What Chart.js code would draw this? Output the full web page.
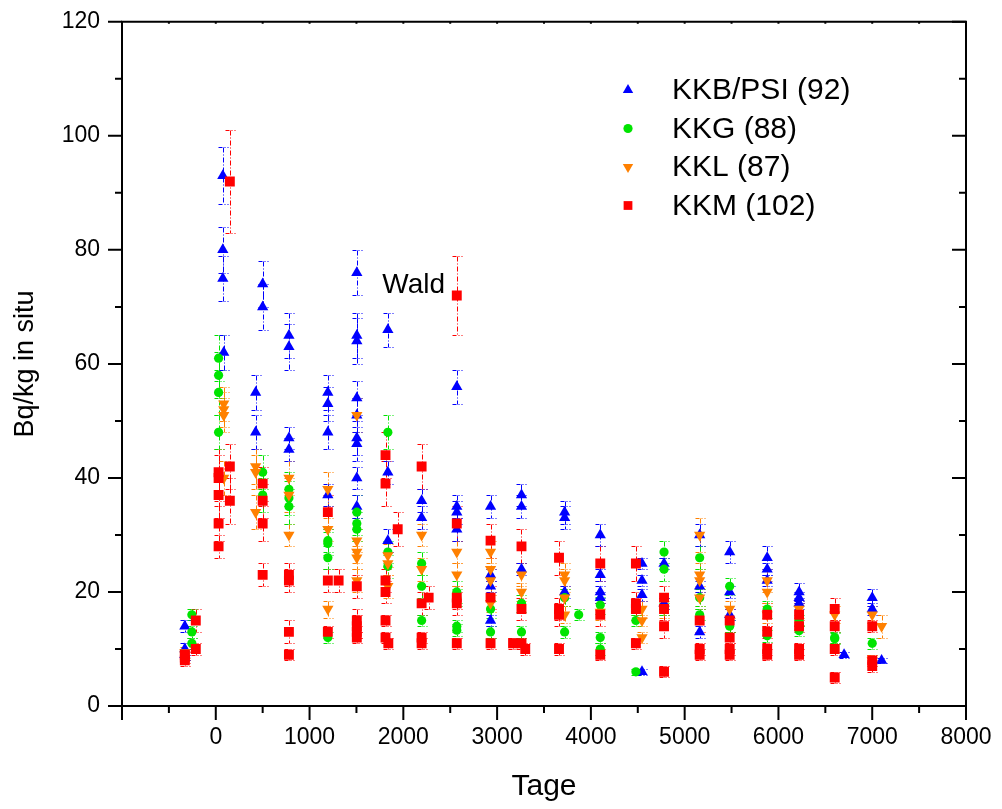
<!DOCTYPE html>
<html lang="de">
<head>
<meta charset="UTF-8">
<script src="https://cdn.jsdelivr.net/npm/chart.js"></script>
<title>Bq/kg in situ</title>
<style>
  body { margin: 0; background: #fff; }
</style>
</head>
<body>
<canvas id="grafik" width="1002" height="809"></canvas>
<script>
// Messwerte: [Tage, Bq/kg in situ, Fehler]
var kkb = [
  [-330, 14, 1], [-330, 10, 1], [-330, 9, 1],
  [75, 93, 5], [75, 80, 4], [75, 75, 4], [85, 62, 3],
  [425, 55, 3], [425, 48, 3],
  [500, 74, 4], [500, 70, 4],
  [780, 65, 4], [780, 63, 4], [780, 47, 2], [780, 45, 2],
  [1195, 55, 3], [1195, 53, 3], [1195, 48, 3], [1195, 37, 2],
  [1504, 76, 4], [1504, 65, 4], [1504, 64, 4], [1504, 54, 3], [1504, 51, 3], [1504, 47, 3], [1504, 46, 3], [1504, 40, 2], [1504, 35, 2],
  [1835, 66, 3], [1835, 41, 2], [1835, 29, 2],
  [2195, 36, 2], [2195, 33, 2],
  [2570, 56, 3], [2570, 35, 2], [2570, 34, 2], [2570, 31, 2],
  [2930, 35, 2], [2930, 23, 1], [2930, 21, 1], [2930, 15, 1],
  [3260, 37, 2], [3260, 35, 2], [3260, 24, 1],
  [3720, 34, 2], [3720, 33, 2], [3720, 20, 1],
  [4100, 30, 2], [4100, 23, 1], [4100, 20, 1], [4100, 19, 1],
  [4545, 25, 1], [4545, 22, 1], [4545, 19.5, 1], [4545, 6, 0.5],
  [4780, 25, 1], [4780, 18, 1],
  [5160, 30, 2], [5160, 21, 1], [5160, 13, 1],
  [5480, 27, 2], [5480, 20, 1], [5480, 16, 1],
  [5880, 26, 2], [5880, 24, 1], [5880, 22, 1],
  [6220, 20, 1.5], [6220, 19, 1], [6220, 18, 1],
  [6700, 9, 0.5],
  [7000, 19, 1.5], [7000, 17, 1],
  [7100, 8, 0.5]
];
var kkg = [
  [-255, 16, 1], [-255, 13, 1], [-255, 11, 1],
  [30, 61, 4], [30, 58, 4], [30, 55, 4], [30, 48, 3],
  [500, 41, 3], [500, 37, 3],
  [780, 38, 3], [780, 36.5, 3], [780, 35, 3],
  [1195, 29, 2], [1195, 28.5, 2], [1195, 26, 2], [1195, 12, 1],
  [1504, 34, 3], [1504, 32, 2], [1504, 31, 2],
  [1835, 48, 3], [1835, 27, 2], [1835, 24.5, 2],
  [2195, 25, 2], [2195, 21, 2], [2195, 15, 1],
  [2570, 20, 2], [2570, 19, 1.5], [2570, 14, 1], [2570, 13.3, 1],
  [2930, 17, 1.5], [2930, 13, 1],
  [3260, 18, 1.5], [3260, 13, 1],
  [3720, 19, 1.5], [3720, 13, 1],
  [3870, 16, 1],
  [4100, 17.7, 1.5], [4100, 12, 1], [4100, 10, 1],
  [4480, 15, 1], [4480, 6, 0.5],
  [4780, 27, 2], [4780, 24, 2], [4780, 17, 1],
  [5160, 26, 2], [5160, 19, 1.5], [5160, 16, 1],
  [5480, 21, 1.5], [5480, 14, 1],
  [5880, 17, 1.5], [5880, 12.3, 1],
  [6220, 15, 1], [6220, 13.2, 1],
  [6600, 12, 1], [6600, 11.8, 1],
  [7000, 11, 1]
];
var kkl = [
  [-330, 9.4, 1], [-330, 9, 1],
  [85, 53, 3], [85, 52, 3], [85, 51, 3], [85, 40, 3],
  [425, 42, 3], [425, 41, 3], [425, 34, 3],
  [780, 40, 3], [780, 37, 3], [780, 30, 2],
  [1195, 38, 3], [1195, 31, 2], [1195, 17, 1.5],
  [1504, 51, 3], [1504, 29, 2], [1504, 27, 2], [1504, 26, 2], [1504, 22, 2],
  [1835, 26.4, 2], [1835, 25, 2], [1835, 21, 2],
  [2195, 30, 2], [2195, 24, 2],
  [2570, 27, 2], [2570, 23, 2],
  [2930, 27, 2], [2930, 24, 2], [2930, 22, 2], [2930, 18, 1.5],
  [3260, 23, 2], [3260, 20, 1.5],
  [3720, 23, 2], [3720, 22, 2], [3720, 19, 1.5], [3720, 16, 1.5],
  [4100, 16.5, 1.5],
  [4545, 17, 1.5], [4545, 15, 1], [4545, 12, 1],
  [4780, 17, 1.5],
  [5160, 30, 3], [5160, 23, 2], [5160, 22, 2], [5160, 19, 1.5],
  [5480, 17, 1.5],
  [5880, 22, 2], [5880, 20, 2], [5880, 16, 1.5],
  [6220, 17, 1.5],
  [6600, 16, 1.5],
  [7000, 16, 1.5], [7000, 8, 1],
  [7100, 14, 2]
];
var kkm = [
  [-330, 9, 1], [-330, 8.5, 1], [-330, 8, 1],
  [-213, 15, 2], [-213, 10, 1],
  [30, 41, 4], [30, 40, 4], [30, 37, 4], [30, 32, 3], [30, 28, 2],
  [150, 92, 9], [150, 42, 4], [150, 36, 4],
  [500, 39, 3], [500, 36, 3], [500, 32, 3], [500, 23, 2],
  [780, 23, 2], [780, 22, 2], [780, 13, 2], [780, 9, 1],
  [1195, 34, 3], [1195, 22, 2], [1195, 13, 1],
  [1310, 22, 2],
  [1504, 21, 2], [1504, 15, 2], [1504, 14, 2], [1504, 13, 1], [1504, 12, 1],
  [1810, 44, 4], [1810, 39, 4], [1810, 22, 2], [1810, 20, 2], [1810, 15, 1], [1810, 12, 1], [1840, 11, 1],
  [1940, 31, 3],
  [2195, 42, 4], [2195, 18, 2], [2195, 12, 1], [2195, 11, 1],
  [2270, 19, 2],
  [2570, 72, 7], [2570, 32, 3], [2570, 19, 2], [2570, 18, 2], [2570, 11, 1],
  [2930, 29, 3], [2930, 19, 2], [2930, 11, 1],
  [3170, 11, 1],
  [3260, 28, 3], [3260, 17, 2], [3260, 11, 1],
  [3300, 10, 1],
  [3660, 26, 3], [3660, 17, 2], [3660, 16, 2], [3660, 10, 1],
  [4100, 25, 3], [4100, 16, 2], [4100, 9, 1],
  [4480, 25, 3], [4480, 18, 2], [4480, 17, 2], [4480, 11, 1],
  [4780, 19, 2], [4780, 17, 2], [4780, 14, 2], [4780, 6, 1],
  [5160, 15, 2], [5160, 10, 1], [5160, 9, 1],
  [5480, 15, 2], [5480, 12, 1], [5480, 10, 1], [5480, 9, 1],
  [5880, 16, 2], [5880, 13, 1], [5880, 10, 1], [5880, 9, 1],
  [6220, 16, 2], [6220, 14, 1], [6220, 10, 1], [6220, 9, 1],
  [6600, 17, 2], [6600, 14, 1], [6600, 10, 1], [6600, 5, 1],
  [7000, 14, 1], [7000, 8, 1], [7000, 7, 1]
];

var serien = ['KKB/PSI (92)', 'KKG (88)', 'KKL (87)', 'KKM (102)'];
var farben = ['#0000ff', '#00e400', '#ff8000', '#ff0000'];

var xTicks = [-1000, -500, 0, 500, 1000, 1500, 2000, 2500, 3000, 3500, 4000, 4500, 5000, 5500, 6000, 6500, 7000, 7500, 8000];
var xLabels = [0, 1000, 2000, 3000, 4000, 5000, 6000, 7000, 8000];
var yTicks = [0, 10, 20, 30, 40, 50, 60, 70, 80, 90, 100, 110, 120];
var yLabels = [0, 20, 40, 60, 80, 100, 120];

var anmerkung = { text: 'Wald', x: 2110, y: 73.8 };

var schrift = 'Arial, "Liberation Sans", sans-serif';

function punkte(liste) {
  return liste.map(function (p) { return { x: p[0], y: p[1], e: p[2] }; });
}

// Fehlerbalken (strichpunktiert) unter den Symbolen
var fehlerbalken = {
  id: 'fehlerbalken',
  beforeDatasetsDraw: function (chart) {
    var ctx = chart.ctx, sx = chart.scales.x, sy = chart.scales.y;
    ctx.save();
    ctx.lineWidth = 1;
    for (var i = chart.data.datasets.length - 1; i >= 0; i--) {
      var ds = chart.data.datasets[i];
      ctx.strokeStyle = ds.borderColor;
      ds.data.forEach(function (p) {
        var px = Math.round(sx.getPixelForValue(p.x)) + 0.5;
        var oben = Math.round(sy.getPixelForValue(p.y + p.e)) + 0.5;
        var unten = Math.round(sy.getPixelForValue(p.y - p.e)) + 0.5;
        ctx.setLineDash([5, 2, 1, 2]);
        ctx.beginPath();
        ctx.moveTo(px, oben);
        ctx.lineTo(px, unten);
        ctx.stroke();
        ctx.setLineDash([4, 2, 1, 2]);
        ctx.beginPath();
        ctx.moveTo(px - 5, oben); ctx.lineTo(px + 5, oben);
        ctx.moveTo(px - 5, unten); ctx.lineTo(px + 5, unten);
        ctx.stroke();
      });
    }
    ctx.restore();
  }
};

// Rahmen, Teilstriche, Legende und Beschriftung
var rahmen = {
  id: 'rahmen',
  afterDraw: function (chart) {
    var ctx = chart.ctx, a = chart.chartArea, sx = chart.scales.x, sy = chart.scales.y;
    ctx.save();
    ctx.strokeStyle = '#000';
    ctx.lineWidth = 2;
    ctx.beginPath();
    ctx.moveTo(a.left - 1, a.top); ctx.lineTo(a.right + 1, a.top);
    ctx.moveTo(a.right, a.top); ctx.lineTo(a.right, a.bottom);
    ctx.stroke();

    ctx.beginPath();
    xTicks.forEach(function (v) {
      var px = sx.getPixelForValue(v);
      var lang = v % 1000 === 0 ? 14 : 7;
      ctx.moveTo(px, a.bottom); ctx.lineTo(px, a.bottom + lang);
      ctx.moveTo(px, a.top); ctx.lineTo(px, a.top + 2);
    });
    yTicks.forEach(function (v) {
      var py = sy.getPixelForValue(v);
      var lang = v % 20 === 0 ? 14 : 7;
      ctx.moveTo(a.left, py); ctx.lineTo(a.left - lang, py);
      ctx.moveTo(a.right, py); ctx.lineTo(a.right - lang, py);
    });
    ctx.stroke();

    // Legende
    chart.data.datasets.forEach(function (ds, i) {
      var ly = 90 + i * 38.5;
      ctx.fillStyle = ds.backgroundColor;
      Chart.helpers.drawPoint(ctx, {
        pointStyle: ds.pointStyle,
        rotation: ds.rotation || 0,
        radius: ds.legendRadius,
        borderWidth: 0
      }, 628, ly);
      ctx.fillStyle = '#000';
      ctx.font = '30px ' + schrift;
      ctx.textBaseline = 'middle';
      ctx.textAlign = 'left';
      ctx.fillText(ds.label, 672, ly + 1);
    });

    ctx.font = '28px ' + schrift;
    ctx.textAlign = 'center';
    ctx.textBaseline = 'middle';
    ctx.fillStyle = '#000';
    ctx.fillText(anmerkung.text, sx.getPixelForValue(anmerkung.x), sy.getPixelForValue(anmerkung.y));
    ctx.restore();
  }
};

var stile = [
  { pointStyle: 'triangle', radius: 6.5, rotation: 0, legendRadius: 6 },
  { pointStyle: 'circle', radius: 4.6, rotation: 0, legendRadius: 4.6 },
  { pointStyle: 'triangle', radius: 6.5, rotation: 180, legendRadius: 6 },
  { pointStyle: 'rect', radius: 7, rotation: 0, legendRadius: 6.2 }
];
var reihen = [kkb, kkg, kkl, kkm];

var datasets = reihen.map(function (r, i) {
  return {
    label: serien[i],
    data: punkte(r),
    backgroundColor: farben[i],
    borderColor: farben[i],
    borderWidth: 0,
    pointStyle: stile[i].pointStyle,
    pointRadius: stile[i].radius,
    pointRotation: stile[i].rotation,
    rotation: stile[i].rotation,
    legendRadius: stile[i].legendRadius,
    order: 4 - i
  };
});

Chart.defaults.font.family = schrift;
Chart.defaults.color = '#000';

new Chart(document.getElementById('grafik'), {
  type: 'scatter',
  data: { datasets: datasets },
  options: {
    responsive: false,
    animation: false,
    layout: { padding: { top: 17, right: 36, left: 0, bottom: 0 } },
    plugins: {
      legend: { display: false },
      tooltip: { enabled: false }
    },
    scales: {
      x: {
        type: 'linear',
        min: -1000,
        max: 8000,
        afterBuildTicks: function (s) { s.ticks = xTicks.map(function (v) { return { value: v }; }); },
        afterFit: function (s) { s.height = 103; },
        ticks: {
          autoSkip: false,
          maxRotation: 0,
          padding: 4,
          font: { size: 23 },
          color: '#000',
          callback: function (v) { return xLabels.indexOf(v) >= 0 ? String(v) : ''; }
        },
        grid: { drawOnChartArea: false, tickLength: 14, tickColor: 'rgba(0,0,0,0)' },
        border: { display: true, color: '#000', width: 2 },
        title: { display: true, text: 'Tage', font: { size: 30 }, color: '#000', padding: { top: 14 } }
      },
      y: {
        min: 0,
        max: 120,
        afterBuildTicks: function (s) { s.ticks = yTicks.map(function (v) { return { value: v }; }); },
        afterFit: function (s) { s.width = 122; },
        ticks: {
          padding: 8,
          font: { size: 23 },
          color: '#000',
          callback: function (v) { return yLabels.indexOf(v) >= 0 ? String(v) : ''; }
        },
        grid: { drawOnChartArea: false, tickLength: 14, tickColor: 'rgba(0,0,0,0)' },
        border: { display: true, color: '#000', width: 2 },
        title: { display: true, text: 'Bq/kg in situ', font: { size: 27 }, color: '#000', padding: { top: 9, bottom: 0 } }
      }
    }
  },
  plugins: [fehlerbalken, rahmen]
});
</script>
</body>
</html>
